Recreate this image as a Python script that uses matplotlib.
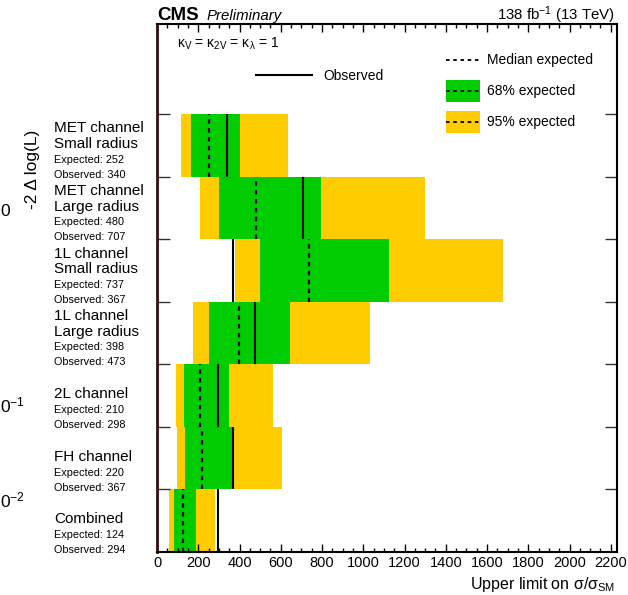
import matplotlib
matplotlib.use("Agg")
import matplotlib.pyplot as plt
import matplotlib.transforms as mtransforms
from matplotlib.ticker import MultipleLocator, FixedLocator, NullFormatter
import numpy as np

plt.rcParams['font.family'] = ['Liberation Sans', 'DejaVu Sans']
plt.rcParams['mathtext.fontset'] = 'custom'
plt.rcParams['mathtext.rm'] = 'Liberation Sans'
plt.rcParams['mathtext.it'] = 'Liberation Sans:italic'
plt.rcParams['mathtext.bf'] = 'Liberation Sans:bold'

# Channels, listed top to bottom
channels = ["MET channel\nSmall radius", "MET channel\nLarge radius",
            "1L channel\nSmall radius", "1L channel\nLarge radius",
            "2L channel", "FH channel", "Combined"]
expected = [252, 480, 737, 398, 210, 220, 124]
observed = [340, 707, 367, 473, 298, 367, 294]
band68_lo = [163, 302, 499, 253, 131, 136, 82]
band68_hi = [402, 795, 1124, 644, 347, 363, 189]
band95_lo = [115, 208, 378, 175, 91, 97, 58]
band95_hi = [633, 1298, 1676, 1032, 560, 604, 281]
x_ticks = [0, 200, 400, 600, 800, 1000, 1200, 1400, 1600, 1800, 2000, 2200]

GREEN = '#00cc00'
YELLOW = '#ffcc00'

W, H = 628, 595
fig = plt.figure(figsize=(W / 100, H / 100), dpi=100)
ax = fig.add_axes([157 / W, 1 - 552 / H, 460 / W, 528 / H])

n = len(channels)
rows = np.arange(n)[::-1]  # top channel on top

ax.barh(rows, np.array(band95_hi) - np.array(band95_lo), left=band95_lo,
        height=1.0, align='edge', color=YELLOW, lw=0)
ax.barh(rows, np.array(band68_hi) - np.array(band68_lo), left=band68_lo,
        height=1.0, align='edge', color=GREEN, lw=0)
ax.vlines(expected, rows, rows + 1, colors='black', lw=1.6,
          linestyles=(0, (2.0, 2.0)))
ax.vlines(observed, rows, rows + 1, colors='black', lw=1.5)

ax.set_xlim(0, 2230)
ax.set_ylim(0, 8.44)

ax.xaxis.set_major_locator(FixedLocator(x_ticks))
ax.xaxis.set_minor_locator(MultipleLocator(50))
ax.tick_params(axis='x', which='both', direction='in', top=True, bottom=True,
               labelsize=10.5, pad=3)
ax.tick_params(axis='x', which='major', length=6, width=1)
ax.tick_params(axis='x', which='minor', length=3, width=1)
ax.yaxis.set_major_locator(FixedLocator(np.arange(1, n + 1)))
ax.yaxis.set_major_formatter(NullFormatter())
ax.tick_params(axis='y', which='major', direction='in', left=True, right=True,
               length=9, width=1, color='#333333')

for side in ['top', 'right', 'bottom']:
    ax.spines[side].set_linewidth(1.5)
ax.spines['left'].set_linewidth(2)
ax.spines['left'].set_color('#3a0c0c')

# Channel labels on the left
blend = mtransforms.blended_transform_factory(fig.transFigure, ax.transData)
lx = 54 / W
for r, name, e, o in zip(rows, channels, expected, observed):
    lines = name.split('\n')
    ax.text(lx, r + 0.03, f"Observed: {o}", transform=blend, fontsize=7.8,
            va='center', ha='left', clip_on=False)
    ax.text(lx, r + 0.27, f"Expected: {e}", transform=blend, fontsize=7.8,
            va='center', ha='left', clip_on=False)
    for k, line in enumerate(lines[::-1]):
        ax.text(lx, r + 0.52 + 0.25 * k, line, transform=blend, fontsize=11,
                va='center', ha='left', clip_on=False)

# Legend
ta = ax.transAxes
ax.plot([0.628, 0.702], [0.932, 0.932], transform=ta, color='black', lw=1.3,
        ls=(0, (2, 2)))
ax.text(0.717, 0.932, 'Median expected', transform=ta, fontsize=10, va='center')
ax.add_patch(plt.Rectangle((0.628, 0.852), 0.074, 0.042, transform=ta,
                           color=GREEN, lw=0))
ax.plot([0.628, 0.702], [0.873, 0.873], transform=ta, color='black', lw=1.3,
        ls=(0, (2, 2)))
ax.text(0.717, 0.873, '68% expected', transform=ta, fontsize=10, va='center')
ax.add_patch(plt.Rectangle((0.628, 0.794), 0.074, 0.042, transform=ta,
                           color=YELLOW, lw=0))
ax.plot([0.628, 0.702], [0.815, 0.815], transform=ta, color='black', lw=1.3,
        ls=(0, (2, 2)))
ax.text(0.717, 0.815, '95% expected', transform=ta, fontsize=10, va='center')
ax.plot([0.215, 0.337], [0.903, 0.903], transform=ta, color='black', lw=1.5)
ax.text(0.361, 0.901, 'Observed', transform=ta, fontsize=10, va='center')

ax.text(0.043, 0.962,
        r'κ$_{\mathregular{V}}$ = κ$_{\mathregular{2V}}$ = κ$_{\mathregular{λ}}$ = 1',
        transform=ta, fontsize=10, va='center', ha='left')

# Header
fig.text(157 / W, 1 - 20 / H, 'CMS', fontsize=13.5, fontweight='bold',
         va='baseline', ha='left')
fig.text(207 / W, 1 - 20 / H, 'Preliminary', fontsize=10.8, style='italic',
         va='baseline', ha='left')
fig.text(615 / W, 1 - 20 / H, r'138 fb$^{\mathregular{-1}}$ (13 TeV)',
         fontsize=10.8, va='baseline', ha='right')

# Axis title
fig.text(615 / W, 1 - 589 / H, r'Upper limit on σ/σ$_{\mathregular{SM}}$',
         fontsize=11.5, va='baseline', ha='right')

# Neighbouring panel's axis text at the left edge
fig.text(33 / W, 1 - 169 / H, '-2 Δ log(L)', fontsize=12.5, rotation=90,
         va='center', ha='center')
fig.text(0.5 / W, 1 - 211 / H, '0', fontsize=12.5, va='center', ha='left')
fig.text(0.5 / W, 1 - 405 / H, r'$\mathregular{0^{-1}}$', fontsize=12.5,
         va='center', ha='left')
fig.text(0.5 / W, 1 - 500 / H, r'$\mathregular{0^{-2}}$', fontsize=12.5,
         va='center', ha='left')

fig.savefig('out.png', dpi=100)
